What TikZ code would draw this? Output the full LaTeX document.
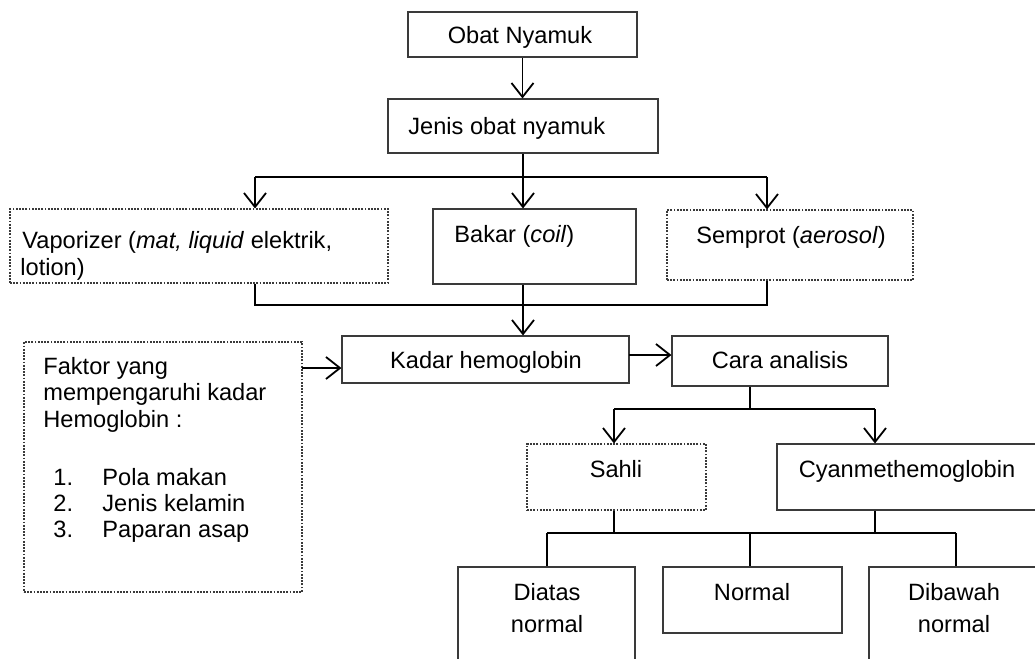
\documentclass[tikz,border=0pt]{standalone}
\usepackage{fontspec}
\setmainfont{Liberation Sans}
\usepackage{tikz}
\usetikzlibrary{positioning, arrows.meta, fit}

\definecolor{framegray}{HTML}{3A3A3A}

\tikzset{
    box/.style={draw=framegray, line width=0.55pt, inner sep=0pt},
    dotbox/.style={box, dash pattern=on 0.9pt off 0.7pt},
    lbl/.style={inner sep=0pt, anchor=base, font=\fontsize{11.8}{14}\selectfont},
    lblw/.style={lbl, anchor=base west},
    link/.style={draw=black, line width=0.55pt},
    arr/.style={link, line width=0.9pt, -{Straight Barb[length=7pt, width=11pt, line width=0.9pt]}},
}

\begin{document}
\begin{tikzpicture}[x=0.5pt, y=-0.5pt]
    \useasboundingbox (0,0) rectangle (1035,659);
    \clip (0,0) rectangle (1035,659);

    % boxes
    \node[box, fit={(408,12) (637,57)}] (obat) {};
    \node[box, fit={(388,99) (658,153)}] (jenis) {};
    \node[dotbox, fit={(10,209) (388,283)}] (vapor) {};
    \node[box, fit={(433,209) (636,284)}] (bakar) {};
    \node[dotbox, fit={(667,210) (913,280)}] (semprot) {};
    \node[box, fit={(342,336) (629,383)}] (kadar) {};
    \node[dotbox, fit={(24,342) (302,592)}] (faktor) {};
    \node[box, fit={(672,336) (888,386)}] (cara) {};
    \node[dotbox, fit={(527,444) (706,510)}] (sahli) {};
    \node[box, fit={(777,444) (1045,510)}] (cyan) {};
    \node[box, fit={(458,567) (635,680)}] (diatas) {};
    \node[box, fit={(663,567) (842,633)}] (normal) {};
    \node[box, fit={(869,567) (1045,680)}] (dibawah) {};

    % texts
    \node[lbl] (tobat) at (520,43) {Obat Nyamuk};
    \node[lblw] (tjenis) at (408,134) {Jenis obat nyamuk};
    \node[lblw] (tvapor) at (22,248) {Vaporizer (\textit{mat, liquid} elektrik,};
    \node[lblw] (tvapor2) at (20,275) {lotion)};
    \node[lblw] (tbakar) at (454,242) {Bakar (\textit{coil})};
    \node[lbl] (tsemprot) at (791,243) {Semprot (\textit{aerosol})};
    \node[lbl] (tkadar) at (486,368) {Kadar hemoglobin};
    \node[lbl] (tcara) at (780,368) {Cara analisis};
    \node[lbl] (tsahli) at (616,477) {Sahli};
    \node[lbl] (tcyan) at (907,477) {Cyanmethemoglobin};
    \node[lbl] (tdiatas) at (547,600) {Diatas};
    \node[lbl] (tdiatas2) at (547,632) {normal};
    \node[lbl] (tnormal) at (752,600) {Normal};
    \node[lbl] (tdibawah) at (954,600) {Dibawah};
    \node[lbl] (tdibawah2) at (954,632) {normal};

    % faktor list
    \foreach \i/\txt/\y in {1/Faktor yang/374, 2/mempengaruhi kadar/400, 3/Hemoglobin :/427}
    {
        \node[lblw] (head\i) at (43,\y) {\txt};
    }
    \foreach \n/\txt/\y in {1/Pola makan/485, 2/Jenis kelamin/511, 3/Paparan asap/537}
    {
        \node[lblw] (num\n) at (53,\y) {\n.};
        \node[lblw] (item\n) at (102,\y) {\txt};
    }

    % upper connectors
    \draw[arr] (obat.south) -- (obat.south |- jenis.north);
    \draw[link] (jenis.south) -- (jenis.south |- 0,177) coordinate (hubA);
    \coordinate (hubL) at (255,177);
    \coordinate (hubR) at (767,177);
    \draw[link] (hubL) -- (hubR);
    \draw[arr] (hubL) -- (hubL |- vapor.north);
    \draw[arr] (hubA) -- (hubA |- bakar.north);
    \draw[arr] (hubR) -- (hubR |- semprot.north);

    \coordinate (joinL) at (255,305);
    \coordinate (joinR) at (767,305);
    \coordinate (joinM) at (hubA |- joinL);
    \draw[link] (joinL |- vapor.south) -- (joinL) -- (joinR) -- (joinR |- semprot.south);
    \draw[link] (joinM |- bakar.south) -- (joinM);
    \draw[arr] (joinM) -- (joinM |- kadar.north);

    \coordinate (fk) at (302,368);
    \draw[arr] (fk) -- (fk -| kadar.west);
    \coordinate (kc) at (629,355);
    \draw[arr] (kc) -- (kc -| cara.west);

    % lower connectors
    \coordinate (hubB) at (750,409);
    \draw[link] (hubB |- cara.south) -- (hubB);
    \coordinate (hubBL) at (614,409);
    \coordinate (hubBR) at (875,409);
    \draw[link] (hubBL) -- (hubBR);
    \draw[arr] (hubBL) -- (hubBL |- sahli.north);
    \draw[arr] (hubBR) -- (hubBR |- cyan.north);

    \coordinate (hubCL) at (547,533);
    \coordinate (hubCR) at (956,533);
    \draw[link] (hubBL |- sahli.south) -- (hubBL |- hubCL);
    \draw[link] (hubBR |- cyan.south) -- (hubBR |- hubCL);
    \draw[link] (hubCL) -- (hubCR);
    \draw[link] (hubCL) -- (hubCL |- diatas.north);
    \draw[link] (hubB |- hubCL) -- (hubB |- normal.north);
    \draw[link] (hubCR) -- (hubCR |- dibawah.north);
\end{tikzpicture}
\end{document}
